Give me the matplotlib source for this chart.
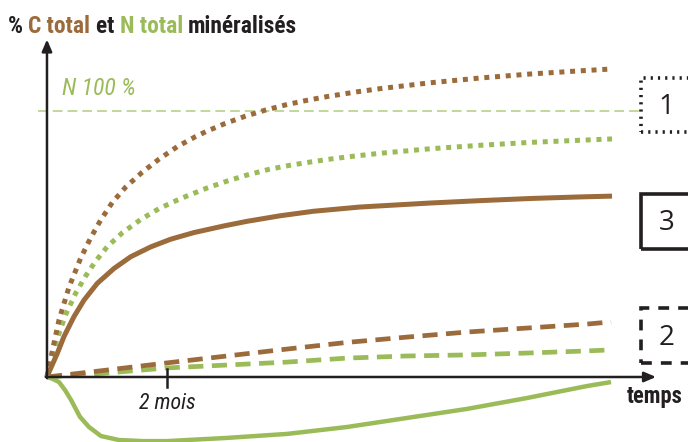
import matplotlib
matplotlib.use("Agg")
import matplotlib.pyplot as plt
from matplotlib import font_manager
from matplotlib.font_manager import FontProperties
from matplotlib.patches import Rectangle

# ---------------- data (time in months, % of total mineralised) ----------------
t_c1 = [0, 0.062, 0.2, 0.367, 0.562, 0.728, 0.895, 1.088, 1.312, 1.588, 1.867, 2.172, 2.478,
        2.645, 2.967, 3.3, 3.633, 3.995, 4.328, 4.688, 5.162, 5.55, 6.383, 7.217, 8.05, 8.883, 9.417]
c_case1 = [0, 7.0, 21.4, 33.8, 44.7, 52.3, 59.0, 65.6, 71.4, 77.0, 81.9, 86.6, 90.4,
           92.2, 95.3, 98.0, 100.3, 102.4, 104.0, 105.5, 107.2, 108.4, 110.6, 112.4, 113.9, 115.1, 115.8]

t_n1 = [0, 0.062, 0.172, 0.312, 0.478, 0.645, 0.812, 1.005, 1.255, 1.562, 1.867, 2.172, 2.328,
        2.662, 2.995, 3.328, 3.688, 4.05, 4.412, 4.745, 5.105, 5.55, 6.383, 7.217, 8.05, 8.883, 9.417]
n_case1 = [0, 5.5, 14.5, 23.5, 31.5, 38.0, 43.6, 49.0, 54.2, 59.2, 63.3, 66.5, 68.0,
           71.0, 73.6, 75.9, 78.0, 79.6, 80.9, 82.0, 83.0, 84.1, 85.8, 87.1, 88.2, 89.0, 89.5]

t_c3 = [0, 0.033, 0.172, 0.283, 0.45, 0.617, 0.838, 1.117, 1.395, 1.728, 2.062, 2.45, 2.95,
        3.328, 3.883, 4.438, 5.217, 6.383, 7.217, 8.05, 8.883, 9.417]
c_case3 = [0, 1.8, 8.9, 15.2, 22.7, 28.9, 35.2, 40.8, 45.2, 48.9, 51.8, 54.3, 56.8,
           58.5, 60.6, 62.3, 63.9, 65.4, 66.3, 67.1, 67.7, 68.0]

t_slow = [0, 1, 2, 3, 4, 5, 6, 7, 8, 9, 9.4]
c_case2 = [0, 2.6, 5.3, 7.9, 10.5, 13.0, 15.0, 16.9, 18.4, 19.9, 20.7]
n_case2 = [0, 1.5, 3.4, 4.5, 5.6, 7.1, 7.9, 8.3, 9.0, 9.8, 10.2]

t_n3 = [0, 0.1, 0.2, 0.3, 0.4, 0.55, 0.7, 0.9, 1.2, 1.6, 2, 3, 4, 5, 6, 7, 8, 9, 9.4]
n_case3 = [0, -0.75, -1.9, -4.9, -8.6, -15.0, -18.8, -22.2, -23.7, -24.1, -24.1, -22.9, -21.4,
           -18.8, -15.4, -12.0, -7.9, -3.4, -1.9]

n_full = 100
tick_month = 2
tick_label = "2 mois"
x_label = "temps"
box_labels = ["1", "3", "2"]
title_parts = ["% ", "C total ", "et ", "N total ", "minéralisés"]

# ---------------- style ----------------
BROWN = "#9C6B3B"
GREEN = "#9BBB59"
LIGHTGREEN = "#C3D69B"
BLACK = "#231F20"

# pick a narrow sans font if one is installed
narrow_names = []
for f in font_manager.fontManager.ttflist:
    if ("Narrow" in f.name or "Condensed" in f.name or
            (f.name in ("Liberation Sans", "DejaVu Sans", "Roboto", "Open Sans", "Noto Sans")
             and str(f.stretch) in ("condensed", "semi-condensed", "extra-condensed"))):
        narrow_names.append(f)


def narrow_font(weight="normal", style="normal"):
    pref = ["Liberation Sans Narrow", "Roboto Condensed", "Open Sans Condensed", "Noto Sans", "DejaVu Sans"]
    for p in pref:
        for f in narrow_names:
            if f.name.startswith(p):
                wbold = (f.weight in ("bold", 700) or (isinstance(f.weight, int) and f.weight >= 600))
                if wbold == (weight == "bold") and (f.style in ("italic", "oblique")) == (style == "italic"):
                    return FontProperties(fname=f.fname)
    return FontProperties(family="Liberation Sans", weight=weight, style=style)


fp_bold = narrow_font("bold")
fp_ital = narrow_font("normal", "italic")

fig = plt.figure(figsize=(6.88, 4.42), dpi=100)
ax = fig.add_axes([0, 0, 1, 1])
ax.set_xlim(-0.783, 10.683)
ax.set_ylim(-24.44, 141.73)
ax.axis("off")

# reference line N 100 %
ax.plot([-0.15, 9.88], [n_full, n_full], color=LIGHTGREEN, lw=1.4,
        linestyle=(0, (5, 2.6)), solid_capstyle="butt", zorder=1)
t_n100 = ax.text(0.25, n_full + 8.3, "N 100 %", fontproperties=fp_ital, ha="left", va="center")
t_n100.set_color(GREEN)

# curves
kw = dict(solid_joinstyle="round", dash_joinstyle="round")
ax.plot(t_slow, n_case2, color=GREEN, lw=3.4, linestyle=(0, (3.2, 1.8)), dash_capstyle="butt", zorder=3, **kw)
ax.plot(t_slow, c_case2, color=BROWN, lw=3.4, linestyle=(0, (3.2, 1.8)), dash_capstyle="butt", zorder=3, **kw)
ax.plot(t_n1, n_case1, color=GREEN, lw=3.6, linestyle=(0, (1, 1.15)), dash_capstyle="butt", zorder=3, **kw)
ax.plot(t_c1, c_case1, color=BROWN, lw=3.6, linestyle=(0, (1, 1.15)), dash_capstyle="butt", zorder=3, **kw)
ax.plot(t_c3, c_case3, color=BROWN, lw=3.6, solid_capstyle="butt", zorder=4, **kw)
ax.plot(t_n3, n_case3, color=GREEN, lw=3.2, solid_capstyle="butt", zorder=4, **kw)

# axes with arrows
ax.annotate("", xy=(0, 126.9), xytext=(0, -0.4),
            arrowprops=dict(arrowstyle="-|>,head_length=0.7,head_width=0.3", color=BLACK, lw=1.8,
                            shrinkA=0, shrinkB=0), zorder=5)
ax.annotate("", xy=(10.15, 0), xytext=(-0.02, 0),
            arrowprops=dict(arrowstyle="-|>,head_length=0.7,head_width=0.3", color=BLACK, lw=1.8,
                            shrinkA=0, shrinkB=0), zorder=5)
ax.plot([tick_month, tick_month], [3.0, -3.8], color=BLACK, lw=1.8, zorder=5)
t_tick = ax.text(tick_month, -9.8, tick_label, fontproperties=fp_ital,
                 color=BLACK, ha="center", va="center")
t_x = ax.text(10.13, -7.4, x_label, fontproperties=fp_bold,
              color=BLACK, ha="center", va="center")

# title (multi-coloured)
title_colors = [BLACK, BROWN, BLACK, GREEN, BLACK]
title_texts = []
prev = fig.text(8 / 688, 1 - 33 / 442, title_parts[0], color=title_colors[0],
                fontproperties=fp_bold, ha="left", va="baseline")
title_texts.append(prev)
for s, c in zip(title_parts[1:], title_colors[1:]):
    prev = ax.annotate(s, xy=(1, 0), xycoords=prev, ha="left", va="bottom", color=c,
                       fontproperties=fp_bold)
    title_texts.append(prev)

# boxes on the right
box_specs = [
    (92.1, 112.4, (0, (0.6, 1.4)), box_labels[0], 101.5),
    (48.1, 68.8, "-", box_labels[1], 57.9),
    (5.3, 25.9, (0, (3, 2.5)), box_labels[2], 14.7),
]
for y0, y1, ls, lab, ly in box_specs:
    ax.add_patch(Rectangle((9.9, y0), 1.3, y1 - y0, fill=False, edgecolor=BLACK,
                           lw=2.6, linestyle=ls, zorder=5, clip_on=True))
    ax.text(10.32, ly, lab, fontsize=20, family="Open Sans", color=BLACK,
            ha="center", va="center")

# fit text sizes to the widths measured on the reference
r = fig.canvas.get_renderer()
for t in [t_n100, t_tick, t_x] + title_texts:
    t.set_fontsize(16)
fig.canvas.draw()
for t, target in [(t_n100, 74), (t_tick, 57), (t_x, 56)]:
    w = t.get_window_extent(r).width
    t.set_fontsize(16 * target / w)
x0 = title_texts[0].get_window_extent(r).x0
x1 = title_texts[-1].get_window_extent(r).x1
for t in title_texts:
    t.set_fontsize(16 * 289 / (x1 - x0))

fig.savefig("out.png", dpi=100)
